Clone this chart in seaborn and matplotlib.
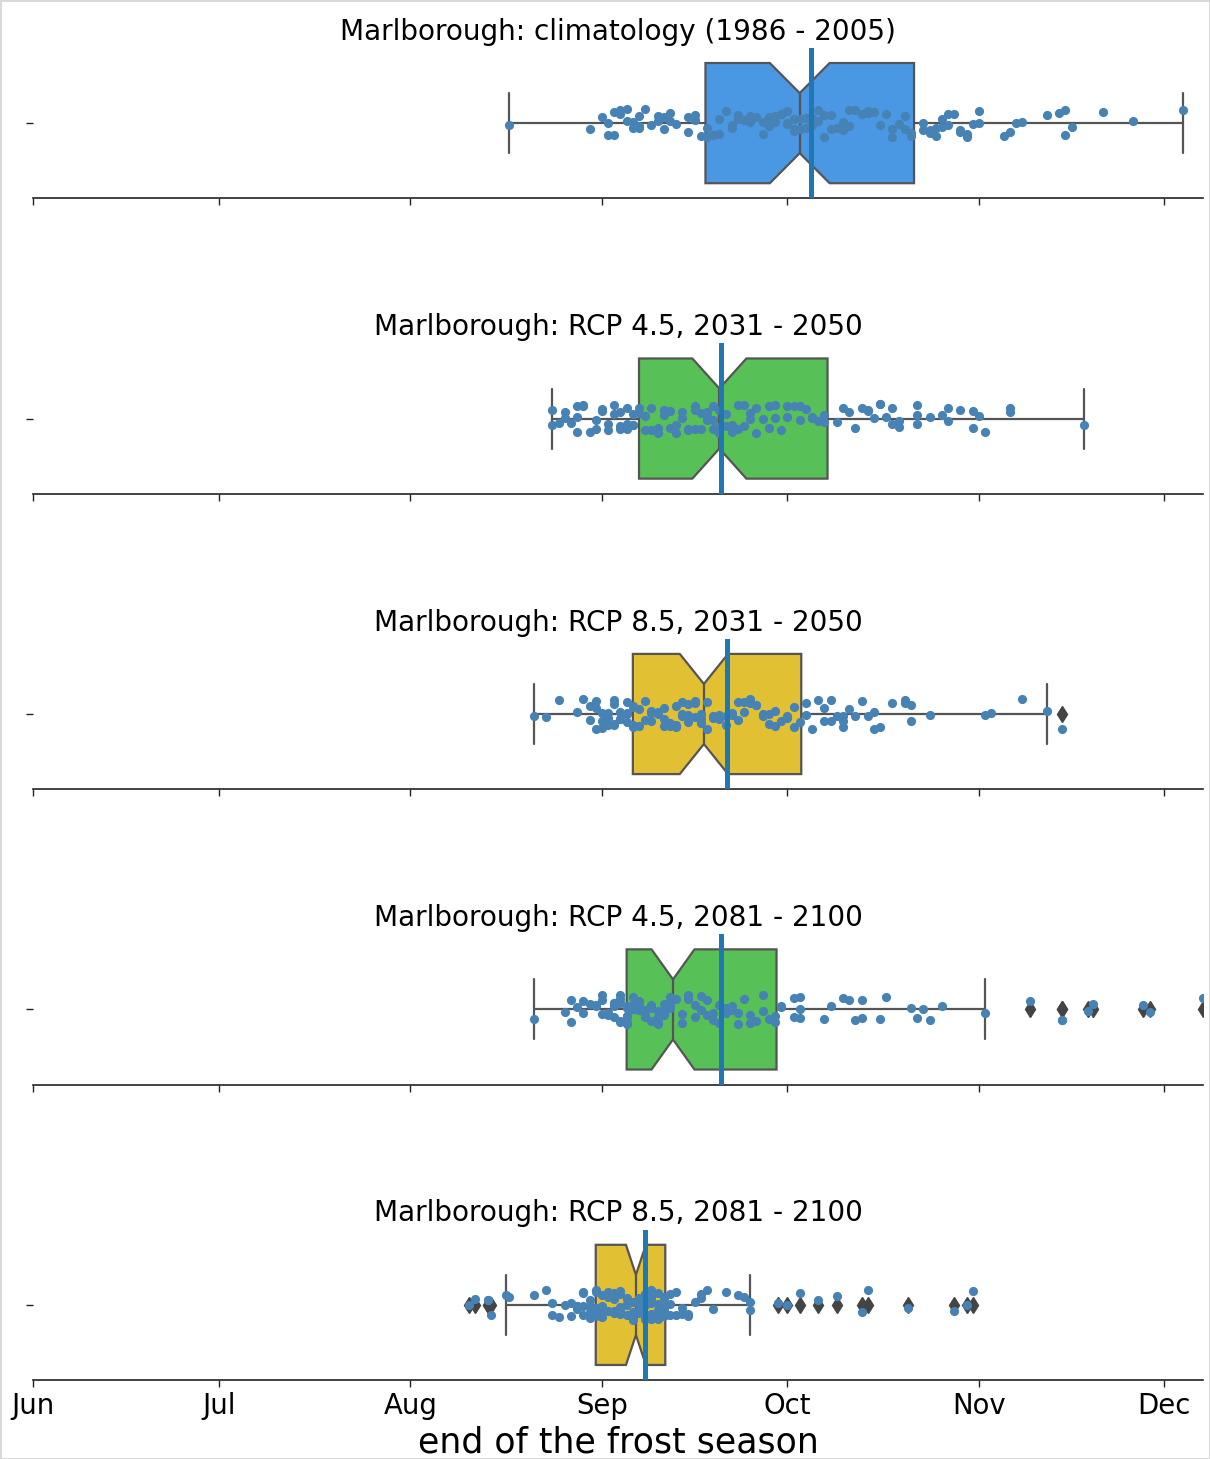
import numpy as np
import pandas as pd
import seaborn as sns
import matplotlib.pyplot as plt

# ---------------- data (day of year of the end of the frost season) ----------------
titles = [
    "Marlborough: climatology (1986 - 2005)",
    "Marlborough: RCP 4.5, 2031 - 2050",
    "Marlborough: RCP 8.5, 2031 - 2050",
    "Marlborough: RCP 4.5, 2081 - 2100",
    "Marlborough: RCP 8.5, 2081 - 2100",
]

climatology = [
    229, 242, 244, 245, 245, 246, 246, 247, 247, 248, 248, 249, 249, 250, 250, 250, 251, 252, 253, 253,
    254, 254, 255, 255, 256, 258, 258, 259, 259, 260,
    261, 261, 262, 263, 263, 264, 265, 265, 266, 266, 267, 268, 268, 269, 270, 270, 271, 271, 272, 272,
    273, 273, 274, 274, 274, 275, 275, 275, 276, 276,
    276, 277, 277, 278, 278, 279, 279, 280, 280, 281, 281, 282, 283, 283, 284, 284, 285, 286, 287, 287,
    288, 289, 290, 291, 291, 292, 293, 293, 294, 294,
    296, 296, 297, 297, 298, 298, 299, 299, 300, 300, 301, 302, 302, 303, 303, 304, 305, 305, 309, 310,
    311, 312, 316, 318, 319, 319, 320, 325, 330, 338,
]

rcp45_2040 = [
    236, 236, 237, 238, 238, 239, 240, 240, 240, 241, 241, 242, 243, 243, 244, 244, 245, 245, 246, 246,
    247, 247, 247, 248, 248, 248, 249, 249, 249, 250,
    250, 251, 251, 252, 252, 253, 253, 254, 254, 255, 255, 256, 256, 257, 257, 258, 258, 259, 259, 259,
    260, 260, 261, 261, 261, 262, 262, 262, 263, 263,
    263, 264, 264, 265, 265, 266, 266, 267, 267, 268, 268, 269, 269, 270, 271, 271, 272, 272, 273, 274,
    274, 275, 276, 276, 277, 278, 278, 279, 280, 280,
    282, 283, 284, 285, 286, 287, 287, 288, 289, 289, 290, 291, 291, 292, 292, 295, 295, 295, 297, 299,
    300, 300, 302, 304, 304, 305, 306, 310, 310, 322,
]

rcp85_2040 = [
    233, 235, 237, 240, 241, 242, 242, 243, 243, 243, 244, 244, 244, 245, 245, 245, 246, 246, 246, 246,
    247, 247, 247, 248, 248, 248, 248, 249, 249, 249,
    249, 250, 250, 251, 251, 252, 252, 252, 253, 253, 254, 254, 254, 255, 255, 256, 256, 256, 257, 257,
    257, 258, 258, 258, 259, 259, 259, 260, 260, 260,
    261, 261, 262, 262, 263, 263, 264, 264, 265, 265, 266, 266, 267, 267, 268, 268, 269, 269, 270, 270,
    271, 271, 272, 272, 273, 274, 274, 275, 275, 276,
    277, 277, 278, 279, 280, 280, 281, 281, 282, 283, 283, 283, 284, 285, 286, 287, 288, 288, 289, 291,
    293, 293, 294, 294, 297, 306, 307, 312, 316, 318.5,
]

rcp45_2090 = [
    233, 238, 239, 239, 240, 241, 241, 242, 243, 243, 244, 244, 244, 245, 245, 245, 246, 246, 246, 246,
    247, 247, 247, 247, 247, 248, 248, 248, 248, 248,
    248, 248, 249, 249, 249, 249, 250, 250, 250, 250, 251, 251, 251, 251, 252, 252, 252, 252, 253, 253,
    253, 253, 254, 254, 254, 254, 255, 255, 255, 255,
    256, 257, 257, 258, 258, 259, 259, 260, 260, 261, 261, 262, 262, 263, 263, 264, 264, 265, 265, 266,
    266, 267, 268, 268, 269, 270, 270, 271, 272, 272,
    273, 273, 275, 275, 276, 276, 276, 280, 281, 283, 284, 285, 286, 286, 289, 290, 294, 295, 296, 297,
    299, 306, 313.3, 318.5, 318.5, 322.7, 323.5, 331.6, 332.7, 341.3,
]

rcp85_2090 = [
    222.5, 223.5, 225.5, 225.5, 226, 228.5, 229, 233, 235, 236, 236, 237, 238, 239, 239, 240, 240, 240, 241, 241,
    241, 241, 242, 242, 242, 242, 242, 243, 243, 243,
    243, 244, 244, 244, 244, 245, 245, 245, 245, 245, 246, 246, 246, 246, 246, 247, 247, 247, 247, 247,
    248, 248, 248, 248, 248, 249, 249, 249, 249, 249,
    250, 250, 250, 250, 250, 250, 251, 251, 251, 251, 251, 251, 252, 252, 252, 252, 252, 252, 253, 253,
    253, 253, 253, 253, 254, 254, 254, 254, 254, 254,
    255, 255, 255, 256, 256, 257, 257, 258, 258, 259, 260, 260, 261, 262, 264, 266, 267, 268, 268, 272.5,
    274, 276, 279, 282, 286, 287, 293.5, 301, 303, 304,
]

series = [climatology, rcp45_2040, rcp85_2040, rcp45_2090, rcp85_2090]

# ensemble mean (vertical line) per panel, day of year
ensemble_mean = [277.9, 263.2, 264.2, 263.2, 250.9]

box_colors = ["#4a98e4", "#57c157", "#e1c034", "#57c157", "#e1c034"]

month_days = [152, 182, 213, 244, 274, 305, 335]
month_labels = ["Jun", "Jul", "Aug", "Sep", "Oct", "Nov", "Dec"]
x_range = (152, 341.2)

# ---------------- plotting ----------------
sns.set_style("ticks")
plt.rcParams["font.family"] = ["DejaVu Sans"]
plt.rcParams["text.color"] = "black"
plt.rcParams["axes.labelcolor"] = "black"
plt.rcParams["xtick.color"] = "black"
plt.rcParams["ytick.color"] = "black"

W, H = 1210, 1459
fig, axes = plt.subplots(5, 1, figsize=(W / 100, H / 100), dpi=100)
fig.subplots_adjust(left=33.3 / W, right=1202.7 / W, top=1 - 48 / H,
                    bottom=1 - 1380 / H, hspace=145 / 150)
fig.patch.set_edgecolor("#d9d9d9")
fig.patch.set_linewidth(2)

np.random.seed(3)
for i, (ax, title, vals, col, m) in enumerate(zip(axes, titles, series, box_colors, ensemble_mean)):
    df = pd.DataFrame({"day": vals})
    sns.boxplot(data=df, x="day", ax=ax, notch=True, color=col, saturation=1,
                width=0.8, linecolor="#555555", linewidth=1.6, whis=1.5,
                flierprops=dict(marker="d", markerfacecolor="#444444",
                                markeredgecolor="#444444", markersize=8))
    sns.stripplot(data=df, x="day", ax=ax, color="#4682b4", size=6.6,
                  jitter=0.1, zorder=4)
    ax.axvline(m, color="#1f77b4", lw=3.6, zorder=6)
    ax.set_xlim(*x_range)
    ax.set_ylim(0.5, -0.5)
    ax.set_yticks([0])
    ax.set_yticklabels([""])
    ax.set_ylabel("")
    ax.set_xticks(month_days)
    if i == len(axes) - 1:
        ax.set_xticklabels(month_labels)
        ax.set_xlabel("end of the frost season", fontsize=25)
    else:
        ax.set_xticklabels([])
        ax.set_xlabel("")
    ax.tick_params(axis="both", labelsize=19.8, length=5, width=1, color="#222222")
    ax.set_title(title, fontsize=20.1, pad=6)
    for s in ["top", "right", "left"]:
        ax.spines[s].set_visible(False)
    ax.spines["bottom"].set_color("#222222")
    ax.spines["bottom"].set_linewidth(1.2)

fig.savefig("out.png", dpi=100)
